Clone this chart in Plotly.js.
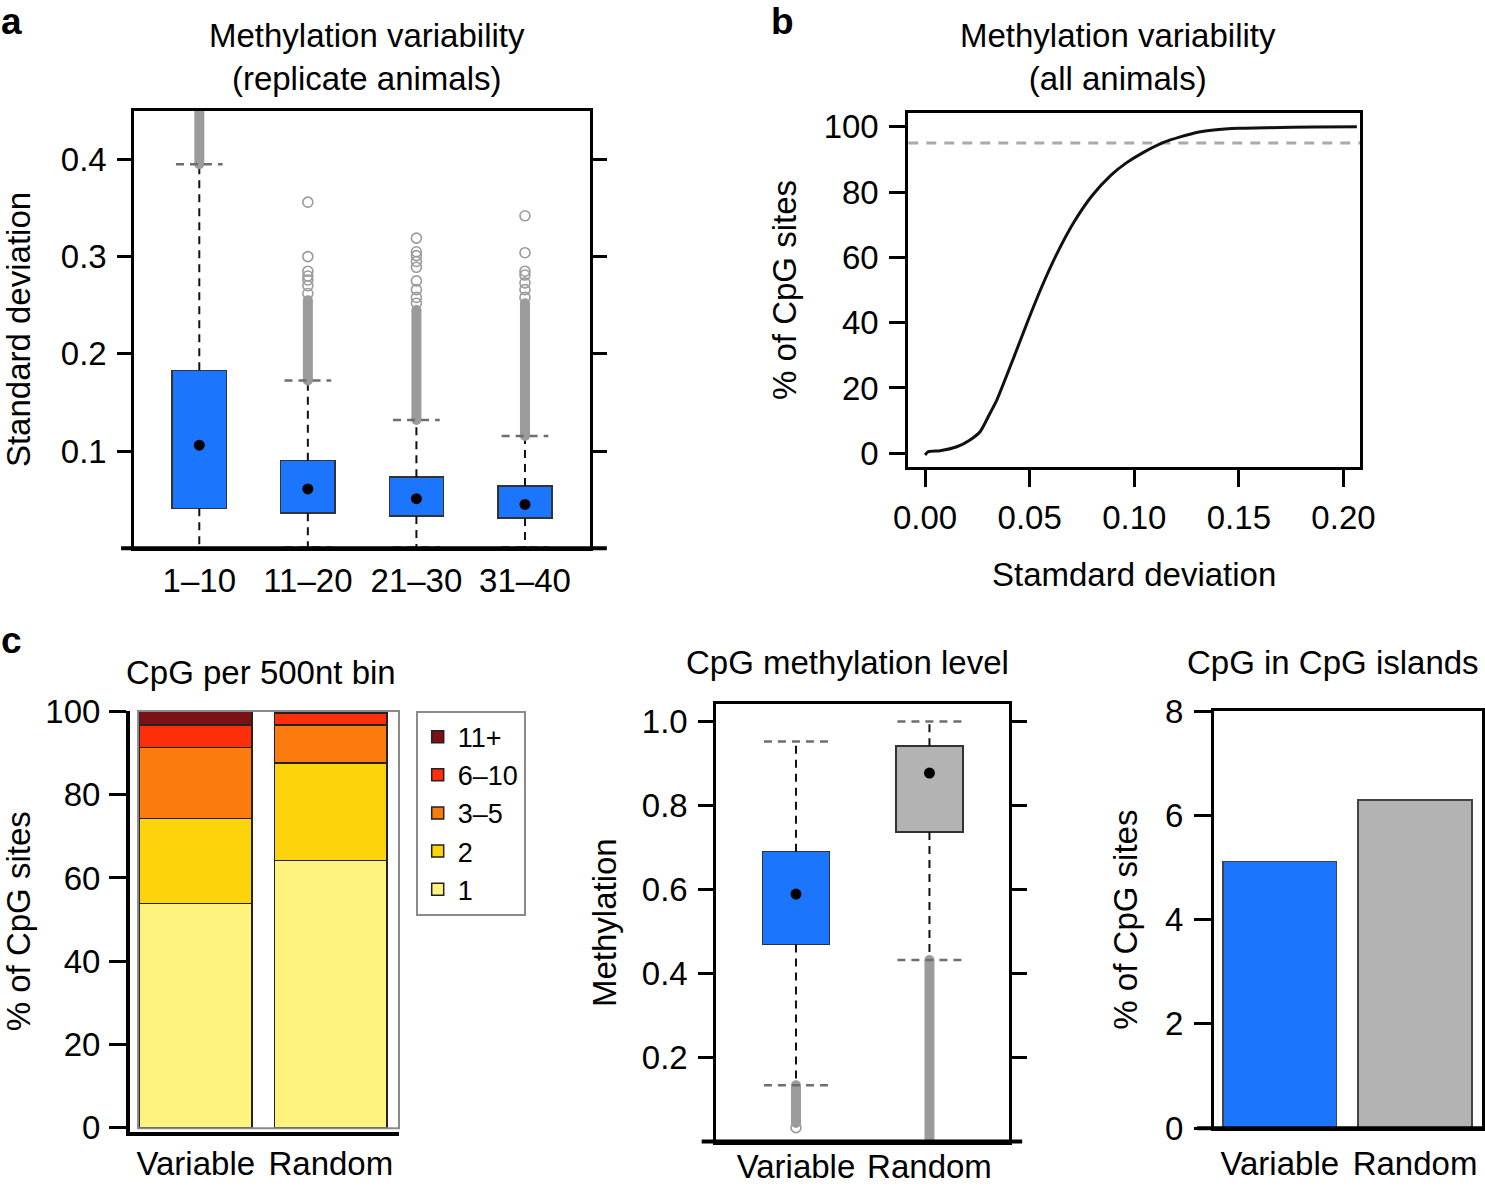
<!DOCTYPE html>
<html>
<head>
<meta charset="utf-8">
<script src="https://cdn.plot.ly/plotly-3.0.1.min.js"></script>
<style>
html,body{margin:0;padding:0;background:#fff;}
#chart{width:1485px;height:1186px;}
</style>
</head>
<body>
<div id="chart"></div>
<script>
// ---------------- Panel a: methylation variability (replicate animals) ----------------
const aCategories = ['1–10', '11–20', '21–30', '31–40'];
const aQ1 = [0.041, 0.036, 0.033, 0.031];
const aMedian = [0.106, 0.061, 0.051, 0.045];
const aQ3 = [0.183, 0.090, 0.073, 0.064];
const aLowerFence = [0.0, 0.001, 0.001, 0.001];
const aUpperFence = [0.395, 0.1725, 0.132, 0.1155];
const aDenseOutlierFrom = [0.395, 0.1725, 0.132, 0.1155];
const aDenseOutlierTo = [0.47, 0.255, 0.245, 0.252];
const aSparseOutliers = [
  [],
  [0.262, 0.270, 0.276, 0.280, 0.285, 0.300, 0.356],
  [0.252, 0.258, 0.266, 0.275, 0.289, 0.295, 0.301, 0.305, 0.319],
  [0.258, 0.266, 0.273, 0.281, 0.285, 0.304, 0.342]
];

// ---------------- Panel b: cumulative distribution (all animals) ----------------
const bStdDev = [0, 0.0016, 0.0072, 0.0152, 0.0215, 0.0263, 0.031, 0.0343, 0.0425, 0.049, 0.0558,
  0.0624, 0.0712, 0.080, 0.0889, 0.0964, 0.104, 0.114, 0.122, 0.131, 0.138, 0.150, 0.164, 0.186, 0.2064];
const bPercent = [-0.5, 0.5, 0.8, 2.0, 4.1, 6.6, 12.2, 16.3, 29.5, 40.3, 51.0,
  60.3, 70.8, 79.0, 85.2, 89.0, 92.0, 95.2, 96.9, 98.4, 99.0, 99.5, 99.7, 99.9, 100];
const bThreshold = 95;

// ---------------- Panel c1: CpG per 500nt bin ----------------
const c1Groups = ['Variable', 'Random'];
const c1BinLabels = ['1', '2', '3–5', '6–10', '11+'];
const c1Bin1 = [53.8, 64.2];
const c1Bin2 = [20.5, 23.5];
const c1Bin3to5 = [17.1, 9.1];
const c1Bin6to10 = [5.4, 2.9];
const c1Bin11plus = [3.2, 0.3];
const c1BinColors = ['#fef47d', '#fdd40b', '#fb7b0e', '#fd2f0a', '#7b1015'];

// ---------------- Panel c2: CpG methylation level ----------------
const c2Groups = ['Variable', 'Random'];
const c2Q1 = [0.469, 0.737];
const c2Median = [0.589, 0.877];
const c2Q3 = [0.690, 0.941];
const c2LowerFence = [0.134, 0.432];
const c2UpperFence = [0.952, 1.0];
const c2DenseOutlierFrom = [0.134, 0.432];
const c2DenseOutlierTo = [0.044, -0.03];
const c2SparseOutliers = [[0.033], []];

// ---------------- Panel c3: CpG in CpG islands ----------------
const c3Groups = ['Variable', 'Random'];
const c3Percent = [5.11, 6.29];

// ---------------- styling ----------------
const BLUE = '#1c76fd';
const GREY = '#b3b3b3';
const FONT = 'Liberation Sans, Arial, Helvetica, sans-serif';
const FS = 33;
const W = 1485, H = 1186;
const px = v => v / W;
const py = v => 1 - v / H;

function boxTraces(xa, ya, pos, q1, med, q3, lf, uf, dFrom, dTo, sparse, colors, boxW, capHalf) {
  const t = [];
  t.push({type: 'bar', xaxis: xa, yaxis: ya, x: pos, base: q1, y: q3.map((v, i) => v - q1[i]),
    width: boxW, marker: {color: colors, line: {color: '#333', width: 1.5}}, showlegend: false, hoverinfo: 'skip'});
  const wx = [], wy = [];
  pos.forEach((p, i) => { wx.push(p, p, null, p, p, null); wy.push(q3[i], uf[i], null, q1[i], lf[i], null); });
  t.push({type: 'scatter', mode: 'lines', xaxis: xa, yaxis: ya, x: wx, y: wy,
    line: {color: '#111', width: 2, dash: '8px,6px'}, showlegend: false, hoverinfo: 'skip'});
  const ox = [], oy = [];
  pos.forEach((p, i) => { ox.push(p, p, null); oy.push(dFrom[i], dTo[i], null); });
  t.push({type: 'scatter', mode: 'lines+markers', xaxis: xa, yaxis: ya, x: ox, y: oy,
    line: {color: '#9b9b9b', width: 10}, marker: {color: '#9b9b9b', size: 10}, showlegend: false, hoverinfo: 'skip'});
  const sx = [], sy = [];
  pos.forEach((p, i) => sparse[i].forEach(v => { sx.push(p); sy.push(v); }));
  t.push({type: 'scatter', mode: 'markers', xaxis: xa, yaxis: ya, x: sx, y: sy,
    marker: {symbol: 'circle-open', color: '#9b9b9b', size: 10, line: {width: 1.6, color: '#9b9b9b'}},
    showlegend: false, hoverinfo: 'skip'});
  const cx = [], cy = [];
  pos.forEach((p, i) => { cx.push(p - capHalf, p + capHalf, null, p - capHalf, p + capHalf, null);
    cy.push(uf[i], uf[i], null, lf[i], lf[i], null); });
  t.push({type: 'scatter', mode: 'lines', xaxis: xa, yaxis: ya, x: cx, y: cy,
    line: {color: '#6e6e6e', width: 2.5, dash: '8px,6px'}, showlegend: false, hoverinfo: 'skip'});
  t.push({type: 'scatter', mode: 'markers', xaxis: xa, yaxis: ya, x: pos, y: med,
    marker: {color: '#000', size: 11}, showlegend: false, hoverinfo: 'skip'});
  return t;
}

const aPos = aCategories.map((_, i) => i + 1);
const c2Pos = c2Groups.map((_, i) => i);
const cPos = c1Groups.map((_, i) => i);

let traces = [];
traces = traces.concat(boxTraces('x', 'y', aPos, aQ1, aMedian, aQ3, aLowerFence, aUpperFence,
  aDenseOutlierFrom, aDenseOutlierTo, aSparseOutliers, aPos.map(() => BLUE), 0.5, 0.215));

traces.push({type: 'scatter', mode: 'lines', xaxis: 'x2', yaxis: 'y2', x: bStdDev, y: bPercent,
  line: {color: '#111', width: 3, shape: 'spline', smoothing: 0.6}, showlegend: false, hoverinfo: 'skip'});

const c1Series = [c1Bin1, c1Bin2, c1Bin3to5, c1Bin6to10, c1Bin11plus];
c1Series.forEach((vals, k) => {
  traces.push({type: 'bar', xaxis: 'x3', yaxis: 'y3', x: cPos, y: vals, name: c1BinLabels[k], width: 0.835,
    marker: {color: c1BinColors[k], line: {color: '#222', width: 1.5}}, hoverinfo: 'skip'});
});

traces = traces.concat(boxTraces('x4', 'y4', c2Pos, c2Q1, c2Median, c2Q3, c2LowerFence, c2UpperFence,
  c2DenseOutlierFrom, c2DenseOutlierTo, c2SparseOutliers, [BLUE, GREY], 0.5, 0.24));

traces.push({type: 'bar', xaxis: 'x5', yaxis: 'y5', x: cPos, y: c3Percent, width: 0.84,
  marker: {color: [BLUE, GREY], line: {color: '#444', width: 1.5}}, showlegend: false, hoverinfo: 'skip'});

const tickFont = {family: FONT, size: FS, color: '#000'};
const titleFont = {family: FONT, size: FS, color: '#000'};
const baseAx = {showgrid: false, zeroline: false, showline: true, linecolor: '#000', linewidth: 3,
  tickfont: tickFont, tickcolor: '#000', tickwidth: 3, fixedrange: true};

function ann(text, x, y, size, extra) {
  return Object.assign({text: text, x: px(x), y: py(y), xref: 'paper', yref: 'paper', showarrow: false,
    xanchor: 'center', yanchor: 'middle', font: {family: FONT, size: size, color: '#000'}}, extra || {});
}

const layout = {
  width: W, height: H, margin: {l: 0, r: 0, t: 0, b: 0},
  paper_bgcolor: '#fff', plot_bgcolor: 'rgba(0,0,0,0)',
  barmode: 'stack', bargap: 0,
  font: {family: FONT, size: FS, color: '#000'},
  showlegend: true,
  legend: {x: px(415.7), y: py(710.7), xanchor: 'left', yanchor: 'top', bgcolor: '#fff',
    bordercolor: '#8a8a8a', borderwidth: 2, font: {family: FONT, size: 27, color: '#000'},
    traceorder: 'reversed', tracegroupgap: 0},
  // panel a
  xaxis: Object.assign({}, baseAx, {domain: [px(134.3), px(590)], range: [0.4013, 4.599], anchor: 'y',
    tickvals: aPos, ticktext: aCategories, ticks: '', mirror: true, ticklabelstandoff: 1}),
  yaxis: Object.assign({}, baseAx, {domain: [py(548.2), py(110.8)], range: [0, 0.45], anchor: 'x',
    tickvals: [0.1, 0.2, 0.3, 0.4], tickformat: '.1f', ticks: 'outside', ticklen: 14, mirror: 'ticks',
    ticklabelstandoff: 4, title: {text: 'Standard deviation', font: titleFont, standoff: 22}}),
  // panel b
  xaxis2: Object.assign({}, baseAx, {domain: [px(908.3), px(1360)], range: [-0.008, 0.2079], anchor: 'y2',
    tickvals: [0, 0.05, 0.1, 0.15, 0.2], tickformat: '.2f', ticks: 'outside', ticklen: 17, mirror: true,
    ticklabelstandoff: 3, title: {text: 'Stamdard deviation', font: titleFont, standoff: 28}}),
  yaxis2: Object.assign({}, baseAx, {domain: [py(466.7), py(113.3)], range: [-4.1, 104.1], anchor: 'x2',
    tickvals: [0, 20, 40, 60, 80, 100], ticks: 'outside', ticklen: 16, mirror: true, ticklabelstandoff: 4,
    title: {text: '% of CpG sites', font: titleFont, standoff: 18}}),
  // panel c1
  xaxis3: Object.assign({}, baseAx, {domain: [px(130), px(399)], range: [-0.487, 1.505], anchor: 'y3',
    tickvals: cPos, ticktext: c1Groups, ticks: '', linewidth: 4, ticklabelstandoff: 0}),
  yaxis3: Object.assign({}, baseAx, {domain: [py(1131.5), py(711)], range: [-1.01, 100.17], anchor: 'x3',
    tickvals: [0, 20, 40, 60, 80, 100], ticks: 'outside', ticklen: 17, linewidth: 4, ticklabelstandoff: 2,
    title: {text: '% of CpG sites', font: titleFont, standoff: 22}}),
  // panel c2
  xaxis4: Object.assign({}, baseAx, {domain: [px(716.3), px(1009)], range: [-0.597, 1.596], anchor: 'y4',
    tickvals: c2Pos, ticktext: c2Groups, ticks: '', mirror: true, ticklabelstandoff: -6}),
  yaxis4: Object.assign({}, baseAx, {domain: [py(1141.5), py(703.8)], range: [0, 1.042], anchor: 'x4',
    tickvals: [0.2, 0.4, 0.6, 0.8, 1.0], tickformat: '.1f', ticks: 'outside', ticklen: 15, mirror: 'ticks',
    ticklabelstandoff: 4, title: {text: 'Methylation', font: titleFont, standoff: 16}}),
  // panel c3
  xaxis5: Object.assign({}, baseAx, {domain: [px(1214), px(1482)], range: [-0.486, 1.495], anchor: 'y5',
    tickvals: cPos, ticktext: c3Groups, ticks: '', mirror: true, ticklabelstandoff: 4}),
  yaxis5: Object.assign({}, baseAx, {domain: [py(1128.2), py(711)], range: [0, 8], anchor: 'x5',
    tickvals: [0, 2, 4, 6, 8], ticks: 'outside', ticklen: 17, mirror: true, ticklabelstandoff: 4,
    title: {text: '% of CpG sites', font: titleFont, standoff: 18}}),
  shapes: [
    {type: 'line', xref: 'x domain', yref: 'y domain', x0: -0.029, x1: 1.037, y0: 0, y1: 0,
      line: {color: '#000', width: 4}},
    {type: 'line', xref: 'x2 domain', yref: 'y2', x0: 0, x1: 1, y0: bThreshold, y1: bThreshold,
      line: {color: '#aaaaaa', width: 3, dash: '10px,8px'}, layer: 'below'},
    {type: 'rect', xref: 'x3 domain', yref: 'y3 domain', x0: 0.03, x1: 1, y0: 0.008, y1: 1,
      line: {color: '#8a8a8a', width: 2}, layer: 'above'},
    {type: 'line', xref: 'x4 domain', yref: 'y4 domain', x0: -0.05, x1: 1.045, y0: 0, y1: 0,
      line: {color: '#000', width: 4}},
    {type: 'line', xref: 'x5 domain', yref: 'y5 domain', x0: -0.063, x1: 1.01, y0: 0, y1: 0,
      line: {color: '#000', width: 4}}
  ],
  annotations: [
    ann('<b>a</b>', 11, 21, 37),
    ann('<b>b</b>', 783, 21, 37),
    ann('<b>c</b>', 11, 640, 37),
    ann('Methylation variability<br>(replicate animals)', 367, 57, FS),
    ann('Methylation variability<br>(all animals)', 1118, 57, FS),
    ann('CpG per 500nt bin', 261, 672, FS),
    ann('CpG methylation level', 847, 662, FS),
    ann('CpG in CpG islands', 1333, 662, FS)
  ]
};

Plotly.newPlot('chart', traces, layout, {displayModeBar: false, staticPlot: true});
</script>
</body>
</html>
